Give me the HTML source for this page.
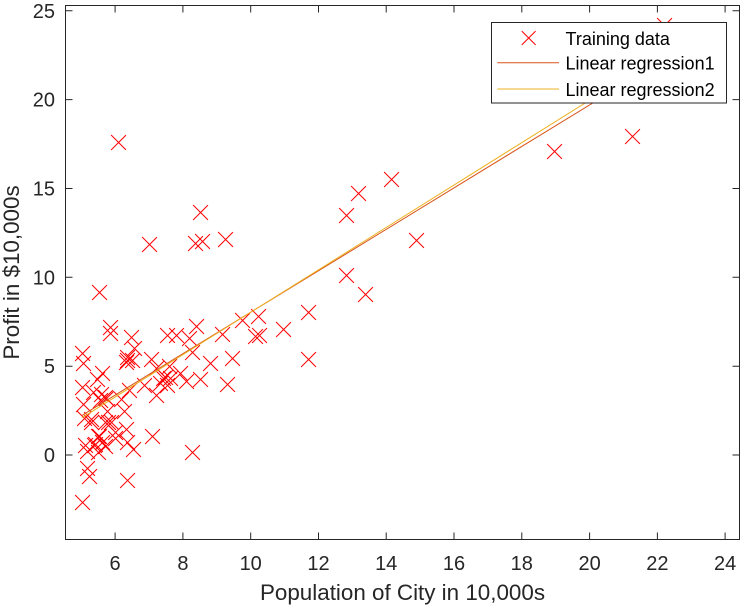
<!DOCTYPE html>
<html><head><meta charset="utf-8">
<style>
html,body{margin:0;padding:0;background:#fff;}
#c{position:relative;width:744px;height:608px;background:#fff;overflow:hidden;}
svg{position:absolute;left:0;top:0;}
.m{position:absolute;width:15px;height:15px;
 left:calc((var(--x) - 4.53) * 33.89px + 57.8px);
 top:calc(447.5px - var(--y) * 17.77px);z-index:1;}
.m::before,.m::after{content:"";position:absolute;left:-3.1px;top:7px;width:21.2px;height:1px;background:#ff0000;transform:rotate(45deg);}
.m::after{transform:rotate(-45deg);}
text{font-family:"Liberation Sans",Arial,sans-serif;}
</style></head><body>
<div id="c">
<svg width="744" height="608" style="z-index:0">
 <g stroke="#262626" stroke-width="1" fill="none">
  <rect x="65.5" y="5.5" width="674" height="534"/>
  <path d="M115.1 539.5v-7M182.9 539.5v-7M250.7 539.5v-7M318.5 539.5v-7M386.2 539.5v-7M454 539.5v-7M521.8 539.5v-7M589.6 539.5v-7M657.4 539.5v-7M725.1 539.5v-7
  M115.1 5.5v7M182.9 5.5v7M250.7 5.5v7M318.5 5.5v7M386.2 5.5v7M454 5.5v7M521.8 5.5v7M589.6 5.5v7M657.4 5.5v7M725.1 5.5v7
  M65.5 455h7M65.5 366.2h7M65.5 277.3h7M65.5 188.5h7M65.5 99.6h7M65.5 10.8h7
  M739.5 455h-7M739.5 366.2h-7M739.5 277.3h-7M739.5 188.5h-7M739.5 99.6h-7M739.5 10.8h-7"/>
 </g>
 <g fill="#262626" font-size="20" text-anchor="middle">
  <text x="115.1" y="570">6</text><text x="182.9" y="570">8</text><text x="250.7" y="570">10</text>
  <text x="318.5" y="570">12</text><text x="386.2" y="570">14</text><text x="454" y="570">16</text>
  <text x="521.8" y="570">18</text><text x="589.6" y="570">20</text><text x="657.4" y="570">22</text>
  <text x="725.1" y="570">24</text>
 </g>
 <g fill="#262626" font-size="20" text-anchor="end">
  <text x="55" y="462">0</text><text x="55" y="373.2">5</text><text x="55" y="284.3">10</text>
  <text x="55" y="195.5">15</text><text x="55" y="106.6">20</text><text x="55" y="17.8">25</text>
 </g>
 <text x="402.5" y="600" fill="#262626" font-size="22.4" text-anchor="middle">Population of City in 10,000s</text>
 <text transform="translate(18.8,272.5) rotate(-90)" fill="#262626" font-size="22.4" text-anchor="middle">Profit in $10,000s</text>
</svg>

<div class="m" style="--x:6.1101;--y:17.592"></div>
<div class="m" style="--x:5.5277;--y:9.1302"></div>
<div class="m" style="--x:8.5186;--y:13.662"></div>
<div class="m" style="--x:7.0032;--y:11.854"></div>
<div class="m" style="--x:5.8598;--y:6.8233"></div>
<div class="m" style="--x:8.3829;--y:11.886"></div>
<div class="m" style="--x:7.4764;--y:4.3483"></div>
<div class="m" style="--x:8.5781;--y:12"></div>
<div class="m" style="--x:6.4862;--y:6.5987"></div>
<div class="m" style="--x:5.0546;--y:3.8166"></div>
<div class="m" style="--x:5.7107;--y:3.2522"></div>
<div class="m" style="--x:14.164;--y:15.505"></div>
<div class="m" style="--x:5.734;--y:3.1551"></div>
<div class="m" style="--x:8.4084;--y:7.2258"></div>
<div class="m" style="--x:5.6407;--y:0.71618"></div>
<div class="m" style="--x:5.3794;--y:3.5129"></div>
<div class="m" style="--x:6.3654;--y:5.3048"></div>
<div class="m" style="--x:5.1301;--y:0.56077"></div>
<div class="m" style="--x:6.4296;--y:3.6518"></div>
<div class="m" style="--x:7.0708;--y:5.3893"></div>
<div class="m" style="--x:6.1891;--y:3.1386"></div>
<div class="m" style="--x:20.27;--y:21.767"></div>
<div class="m" style="--x:5.4901;--y:4.263"></div>
<div class="m" style="--x:6.3261;--y:5.1875"></div>
<div class="m" style="--x:5.5649;--y:3.0825"></div>
<div class="m" style="--x:18.945;--y:22.638"></div>
<div class="m" style="--x:12.828;--y:13.501"></div>
<div class="m" style="--x:10.957;--y:7.0467"></div>
<div class="m" style="--x:13.176;--y:14.692"></div>
<div class="m" style="--x:22.203;--y:24.147"></div>
<div class="m" style="--x:5.2524;--y:-1.22"></div>
<div class="m" style="--x:6.5894;--y:5.9966"></div>
<div class="m" style="--x:9.2482;--y:12.134"></div>
<div class="m" style="--x:5.8918;--y:1.8495"></div>
<div class="m" style="--x:8.2111;--y:6.5426"></div>
<div class="m" style="--x:7.9334;--y:4.5623"></div>
<div class="m" style="--x:8.0959;--y:4.1164"></div>
<div class="m" style="--x:5.6063;--y:3.3928"></div>
<div class="m" style="--x:12.836;--y:10.117"></div>
<div class="m" style="--x:6.3534;--y:5.4974"></div>
<div class="m" style="--x:5.4069;--y:0.55657"></div>
<div class="m" style="--x:6.8825;--y:3.9115"></div>
<div class="m" style="--x:11.708;--y:5.3854"></div>
<div class="m" style="--x:5.7737;--y:2.4406"></div>
<div class="m" style="--x:7.8247;--y:6.7318"></div>
<div class="m" style="--x:7.0931;--y:1.0463"></div>
<div class="m" style="--x:5.0702;--y:5.1337"></div>
<div class="m" style="--x:5.8014;--y:1.844"></div>
<div class="m" style="--x:11.7;--y:8.0043"></div>
<div class="m" style="--x:5.5416;--y:1.0179"></div>
<div class="m" style="--x:7.5402;--y:6.7504"></div>
<div class="m" style="--x:5.3077;--y:1.8396"></div>
<div class="m" style="--x:7.4239;--y:4.2885"></div>
<div class="m" style="--x:7.6031;--y:4.9981"></div>
<div class="m" style="--x:6.3328;--y:1.4233"></div>
<div class="m" style="--x:6.3589;--y:-1.4211"></div>
<div class="m" style="--x:6.2742;--y:2.4756"></div>
<div class="m" style="--x:5.6397;--y:4.6042"></div>
<div class="m" style="--x:9.3102;--y:3.9624"></div>
<div class="m" style="--x:9.4536;--y:5.4141"></div>
<div class="m" style="--x:8.8254;--y:5.1694"></div>
<div class="m" style="--x:5.1793;--y:-0.74279"></div>
<div class="m" style="--x:21.279;--y:17.929"></div>
<div class="m" style="--x:14.908;--y:12.054"></div>
<div class="m" style="--x:18.959;--y:17.054"></div>
<div class="m" style="--x:7.2182;--y:4.8852"></div>
<div class="m" style="--x:8.2951;--y:5.7442"></div>
<div class="m" style="--x:10.236;--y:7.7754"></div>
<div class="m" style="--x:5.4994;--y:1.0173"></div>
<div class="m" style="--x:20.341;--y:20.992"></div>
<div class="m" style="--x:10.136;--y:6.6799"></div>
<div class="m" style="--x:7.3345;--y:4.0259"></div>
<div class="m" style="--x:6.0062;--y:1.2784"></div>
<div class="m" style="--x:7.2259;--y:3.3411"></div>
<div class="m" style="--x:5.0269;--y:-2.6807"></div>
<div class="m" style="--x:6.5479;--y:0.29678"></div>
<div class="m" style="--x:7.5386;--y:3.8845"></div>
<div class="m" style="--x:5.0365;--y:5.7014"></div>
<div class="m" style="--x:10.274;--y:6.7526"></div>
<div class="m" style="--x:5.1077;--y:2.0576"></div>
<div class="m" style="--x:5.7292;--y:0.47953"></div>
<div class="m" style="--x:5.1884;--y:0.20421"></div>
<div class="m" style="--x:6.3557;--y:0.67861"></div>
<div class="m" style="--x:9.7687;--y:7.5435"></div>
<div class="m" style="--x:6.5159;--y:5.3436"></div>
<div class="m" style="--x:8.5172;--y:4.2415"></div>
<div class="m" style="--x:9.1802;--y:6.7981"></div>
<div class="m" style="--x:6.002;--y:0.92695"></div>
<div class="m" style="--x:5.5204;--y:0.152"></div>
<div class="m" style="--x:5.0594;--y:2.8214"></div>
<div class="m" style="--x:5.7077;--y:1.8451"></div>
<div class="m" style="--x:7.6366;--y:4.2959"></div>
<div class="m" style="--x:5.8707;--y:7.2029"></div>
<div class="m" style="--x:5.3054;--y:1.9869"></div>
<div class="m" style="--x:8.2934;--y:0.14454"></div>
<div class="m" style="--x:13.394;--y:9.0551"></div>
<div class="m" style="--x:5.4369;--y:0.61705"></div>

<svg width="744" height="608" style="z-index:2">
 <line x1="82.14" y1="415.32" x2="664.25" y2="59.31" stroke="#D95319" stroke-width="1"/>
 <line x1="82.14" y1="417.66" x2="664.25" y2="53.53" stroke="#EDB120" stroke-width="1"/>
 <rect x="491.5" y="22.5" width="235" height="80.5" fill="#fff" stroke="#262626" stroke-width="1"/>
 <path d="M521.8 31.1l13.8 13.8M535.6 31.1l-13.8 13.8" stroke="#ff0000" stroke-width="1"/>
 <line x1="497.3" y1="62.7" x2="559" y2="62.7" stroke="#D95319" stroke-width="1"/>
 <line x1="497.3" y1="89" x2="559" y2="89" stroke="#EDB120" stroke-width="1"/>
 <g font-size="18" fill="#000">
  <text x="565.5" y="44.8">Training data</text>
  <text x="565.5" y="69.7">Linear regression1</text>
  <text x="565.5" y="96.2">Linear regression2</text>
 </g>
</svg>
</div>
</body></html>
